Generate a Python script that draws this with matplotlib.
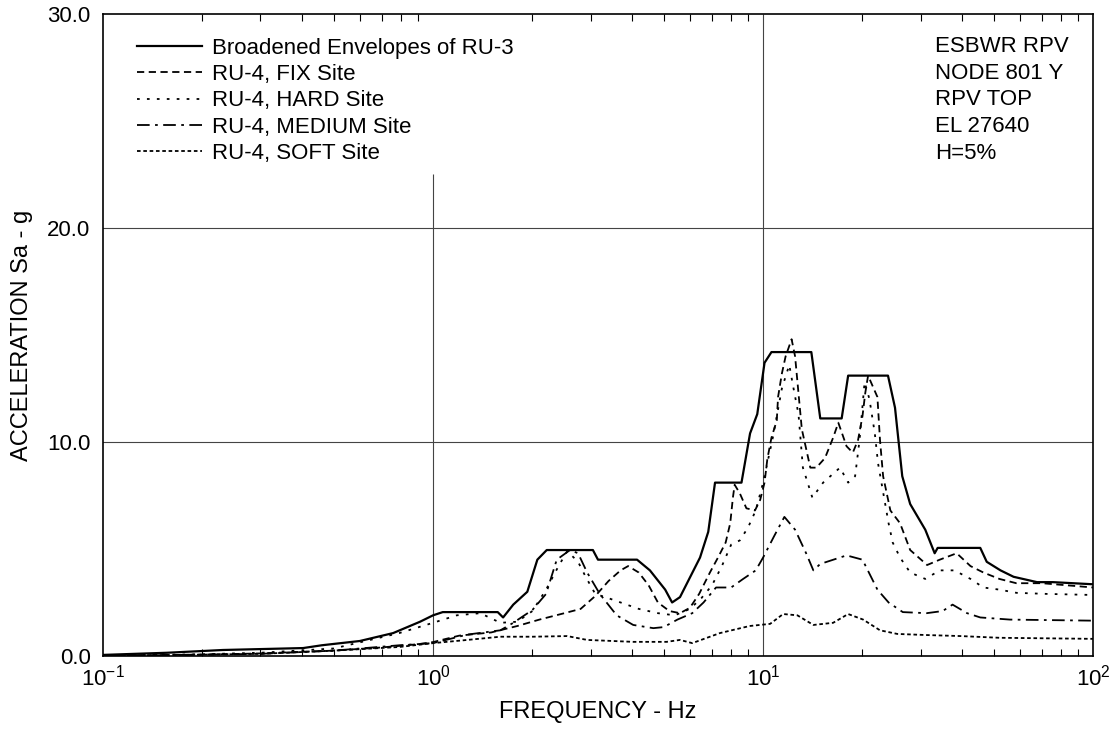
import numpy as np
import matplotlib
matplotlib.use('Agg')
import matplotlib.pyplot as plt
from matplotlib.ticker import LogLocator, NullFormatter, FixedLocator

plt.rcParams['font.family'] = ['Liberation Sans', 'DejaVu Sans']

# envelope of RU-3 (solid)
env_f = [0.1, 0.156, 0.231, 0.404, 0.46, 0.6, 0.757, 0.913, 1.0, 1.07, 1.57, 1.63, 1.75, 1.93,
         2.07, 2.21, 3.05, 3.16, 4.15, 4.54, 5.05, 5.3, 5.6, 6.44, 6.82, 7.15, 8.6, 9.13, 9.6,
         10.1, 10.6, 14.0, 14.9, 17.3, 18.1, 23.9, 25.1, 26.4, 27.9, 31.0, 33.1, 33.8, 45.5,
         47.6, 52.4, 57.4, 67.6, 75.5, 100]
env_a = [0.05, 0.15, 0.28, 0.37, 0.5, 0.7, 1.07, 1.6, 1.9, 2.05, 2.05, 1.8, 2.4, 3.0,
         4.5, 4.95, 4.95, 4.5, 4.5, 4.0, 3.1, 2.5, 2.75, 4.6, 5.8, 8.1, 8.1, 10.4, 11.3,
         13.7, 14.2, 14.2, 11.1, 11.1, 13.1, 13.1, 11.6, 8.4, 7.1, 5.9, 4.8, 5.05, 5.05,
         4.4, 4.0, 3.7, 3.45, 3.45, 3.35]

# RU-4 FIX site (dashed)
fix_f = [0.1, 0.2, 0.3, 0.5, 0.7, 0.9, 1.0, 1.2, 1.5, 1.8, 2.1, 2.5, 2.8, 3.1, 3.4, 3.7, 3.9,
         4.2, 4.5, 4.8, 5.2, 5.6, 6.0, 6.4, 6.9, 7.3, 7.7, 7.95, 8.1, 8.2, 8.5, 8.9, 9.45,
         9.8, 10.1, 10.3, 10.6, 11.0, 11.1, 11.4, 11.7, 12.2, 12.5, 13.1, 13.9, 14.5, 15.4,
         16.3, 16.9, 17.9, 18.7, 19.4, 20.0, 20.4, 20.8, 22.2, 22.6, 23.1, 24.3, 26.0, 27.9,
         31.4, 34.3, 38.6, 42.5, 46.5, 52.0, 58.5, 70.0, 100]
fix_a = [0.02, 0.06, 0.12, 0.25, 0.4, 0.55, 0.65, 0.95, 1.1, 1.4, 1.7, 2.0, 2.2, 2.8, 3.5, 4.0, 4.2,
         3.9, 3.3, 2.5, 2.1, 2.0, 2.25, 2.9, 3.9, 4.6, 5.3, 6.2, 7.4, 8.0, 7.6, 6.9, 6.8,
         7.3, 8.1, 9.2, 10.2, 11.0, 12.1, 13.2, 14.0, 14.8, 14.0, 10.6, 8.8, 8.8, 9.25,
         10.2, 10.9, 9.8, 9.5, 10.1, 11.2, 12.3, 13.1, 12.1, 10.1, 8.4, 6.8, 6.2, 4.95,
         4.25, 4.5, 4.8, 4.2, 3.9, 3.6, 3.4, 3.4, 3.2]

# RU-4 HARD site (sparse dots)
hard_f = [0.1, 0.2, 0.3, 0.5, 0.79, 1.0, 1.18, 1.39, 1.6, 1.8, 2.0, 2.2, 2.4, 2.55, 2.75, 2.9,
          3.1, 3.4, 3.7, 4.2, 4.8, 5.4, 6.0, 6.5, 7.0, 7.5, 8.0, 8.5, 9.0, 9.5, 10.0, 10.7,
          11.4, 12.0, 12.4, 12.8, 13.2, 14.1, 15.2, 17.1, 18.1, 19.0, 19.6, 20.3, 21.0, 21.8,
          22.3, 24.0, 24.7, 26.0, 27.9, 31.0, 34.3, 38.0, 42.5, 46.5, 52.0, 58.6, 72.5, 100]
hard_a = [0.02, 0.08, 0.15, 0.35, 1.07, 1.55, 1.9, 2.0, 1.55, 1.6, 2.1, 3.1, 4.2, 4.9, 4.4, 3.7,
          2.9, 2.7, 2.5, 2.2, 2.0, 1.9, 2.2, 2.7, 3.3, 4.2, 5.2, 5.4, 6.0, 6.8, 8.1, 10.2,
          12.5, 13.6, 12.4, 11.3, 8.8, 7.4, 8.1, 8.8, 8.1, 8.4, 10.1, 12.8, 12.0, 10.4,
          9.0, 6.2, 5.3, 4.6, 3.9, 3.6, 4.0, 4.0, 3.6, 3.2, 3.1, 2.95, 2.9, 2.85]

# RU-4 MEDIUM site (dash-dot)
med_f = [0.1, 0.3, 0.5, 0.79, 1.0, 1.27, 1.6, 1.75, 2.0, 2.2, 2.37, 2.6, 2.75, 2.93, 3.2, 3.6,
         4.04, 4.65, 5.0, 5.5, 6.1, 6.6, 7.2, 8.0, 8.7, 9.5, 10.0, 10.8, 11.6, 12.5, 13.5,
         14.2, 14.9, 17.9, 20.0, 22.2, 24.0, 26.5, 31.3, 35.0, 37.5, 41.5, 45.5, 56.0, 100]
med_a = [0.0, 0.1, 0.25, 0.5, 0.6, 1.0, 1.2, 1.55, 2.15, 2.9, 4.5, 4.95, 4.8, 3.9, 2.9, 1.9,
         1.45, 1.3, 1.35, 1.7, 2.0, 2.5, 3.2, 3.2, 3.6, 4.0, 4.6, 5.6, 6.5, 5.9, 4.8,
         4.0, 4.3, 4.7, 4.5, 3.1, 2.5, 2.05, 2.0, 2.1, 2.4, 2.0, 1.8, 1.7, 1.65]

# RU-4 SOFT site (dense dots)
soft_f = [0.1, 0.3, 0.5, 0.79, 1.0, 1.27, 1.6, 2.0, 2.55, 2.93, 4.04, 5.1, 5.6, 6.1, 7.4, 9.1,
          10.5, 11.5, 12.7, 14.2, 16.3, 18.1, 20.1, 22.6, 25.5, 31.0, 39.7, 52.0, 100]
soft_a = [0.0, 0.1, 0.25, 0.42, 0.6, 0.75, 0.9, 0.9, 0.93, 0.75, 0.66, 0.66, 0.75, 0.6, 1.07, 1.4,
          1.5, 1.96, 1.9, 1.45, 1.55, 1.96, 1.7, 1.2, 1.03, 0.98, 0.93, 0.85, 0.8]

labels = ['Broadened Envelopes of RU-3', 'RU-4, FIX Site', 'RU-4, HARD Site',
          'RU-4, MEDIUM Site', 'RU-4, SOFT Site']
note = ['ESBWR RPV', 'NODE 801 Y', 'RPV TOP', 'EL 27640', 'H=5%']

fig = plt.figure(figsize=(11.15, 7.34), dpi=100)
ax = fig.add_axes([0.0924, 0.1063, 0.888, 0.8747])

ax.plot(env_f, env_a, color='k', lw=1.6, ls='-', label=labels[0])
ax.plot(fix_f, fix_a, color='k', lw=1.3, ls=(0, (4, 2.5)), label=labels[1])
ax.plot(hard_f, hard_a, color='k', lw=1.3, ls=(0, (1.5, 4)), label=labels[2])
ax.plot(med_f, med_a, color='k', lw=1.3, ls=(0, (7, 3, 1.5, 3)), label=labels[3])
ax.plot(soft_f, soft_a, color='k', lw=1.3, ls=(0, (2, 1.5)), label=labels[4])

ax.set_xscale('log')
ax.set_xlim(0.1, 100)
ax.set_ylim(0, 30)

# grid
ax.axhline(10, color='#444444', lw=0.8, zorder=0)
ax.axhline(20, color='#444444', lw=0.8, zorder=0)
ax.vlines(1, 0, 22.5, color='#444444', lw=0.8, zorder=0)
ax.vlines(10, 0, 30, color='#444444', lw=0.8, zorder=0)

ax.yaxis.set_major_locator(FixedLocator([0, 10, 20, 30]))
ax.set_yticklabels(['0.0', '10.0', '20.0', '30.0'])
ax.tick_params(axis='y', length=0, labelsize=16, pad=9)
ax.xaxis.set_major_locator(LogLocator(base=10, numticks=10))
ax.xaxis.set_minor_locator(LogLocator(base=10, subs=np.arange(2, 10), numticks=20))
ax.xaxis.set_minor_formatter(NullFormatter())
ax.tick_params(axis='x', which='both', direction='in', top=True, labelsize=16, pad=6)
ax.tick_params(axis='x', which='major', length=0)
ax.tick_params(axis='x', which='minor', length=5, width=0.8)

for s in ax.spines.values():
    s.set_linewidth(1.2)

ax.set_xlabel('FREQUENCY - Hz', fontsize=17, labelpad=8)
ax.set_ylabel('ACCELERATION Sa - g', fontsize=17, labelpad=10)

ax.legend(loc='upper left', bbox_to_anchor=(0.034, 0.963), frameon=False, fontsize=16,
          handlelength=2.93, handletextpad=0.45, labelspacing=0.24, borderaxespad=0,
          borderpad=0)

for i, line in enumerate(note):
    ax.text(0.840, 0.9486 - i * 0.0413, line, transform=ax.transAxes, ha='left', va='center',
            fontsize=16)

fig.savefig('out.png', dpi=100)
